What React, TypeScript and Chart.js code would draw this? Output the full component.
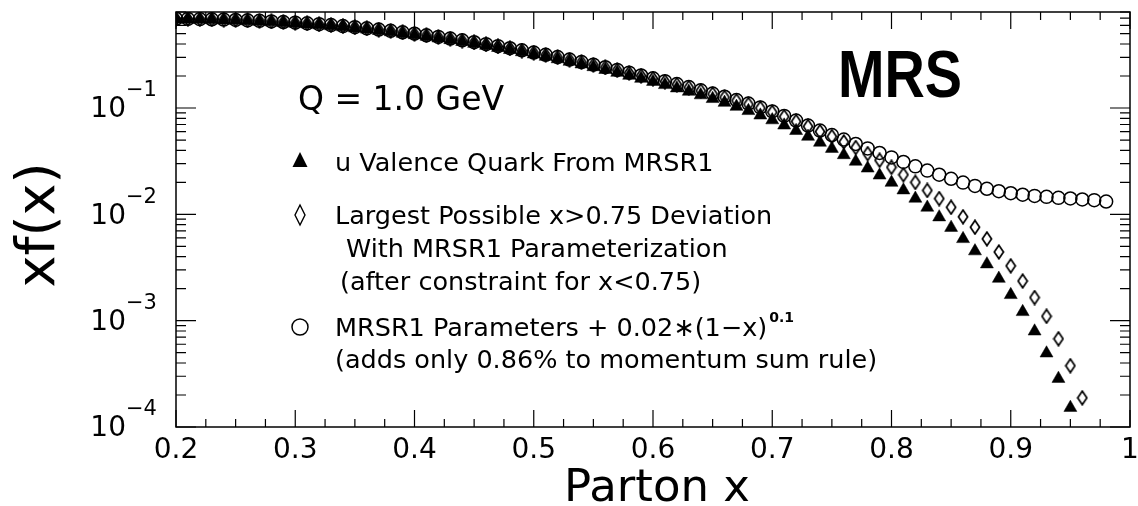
import React, { useEffect, useRef } from 'react';
import { Chart, registerables } from 'chart.js';

Chart.register(...registerables);

// ---------------- data ----------------
const xValues = [
  0.20, 0.21, 0.22, 0.23, 0.24, 0.25, 0.26, 0.27, 0.28, 0.29,
  0.30, 0.31, 0.32, 0.33, 0.34, 0.35, 0.36, 0.37, 0.38, 0.39,
  0.40, 0.41, 0.42, 0.43, 0.44, 0.45, 0.46, 0.47, 0.48, 0.49,
  0.50, 0.51, 0.52, 0.53, 0.54, 0.55, 0.56, 0.57, 0.58, 0.59,
  0.60, 0.61, 0.62, 0.63, 0.64, 0.65, 0.66, 0.67, 0.68, 0.69,
  0.70, 0.71, 0.72, 0.73, 0.74, 0.75, 0.76, 0.77, 0.78, 0.79,
  0.80, 0.81, 0.82, 0.83, 0.84, 0.85, 0.86, 0.87, 0.88, 0.89,
  0.90, 0.91, 0.92, 0.93, 0.94, 0.95, 0.96, 0.97, 0.98,
];

// u valence quark from MRSR1 (filled triangles)
const uValence = [
  0.6837, 0.6813, 0.6784, 0.6747, 0.6704, 0.6649, 0.6584, 0.6511, 0.6427, 0.6337,
  0.6242, 0.6142, 0.6030, 0.5907, 0.5775, 0.5637, 0.5493, 0.5343, 0.5189, 0.5031,
  0.4869, 0.4706, 0.4540, 0.4372, 0.4203, 0.4034, 0.3865, 0.3696, 0.3529, 0.3365,
  0.3207, 0.3048, 0.2890, 0.2735, 0.2584, 0.2435, 0.2292, 0.2154, 0.2020, 0.1892,
  0.1770, 0.1651, 0.1537, 0.1429, 0.1323, 0.1221, 0.1124, 0.1031, 0.0941, 0.0854,
  0.0770, 0.0688, 0.0611, 0.0539, 0.0474, 0.0415, 0.0362, 0.0314, 0.0271, 0.0233,
  0.0199, 0.01688, 0.01410, 0.01161, 0.00941, 0.00750, 0.00588, 0.00451, 0.00340, 0.00249,
  0.00175, 0.00121, 0.000795, 0.000494, 0.000285, 0.000152,
];

// largest possible x>0.75 deviation (open diamonds)
const largestDeviation = [
  0.690, 0.688, 0.685, 0.682, 0.678, 0.673, 0.667, 0.660, 0.652, 0.643,
  0.634, 0.624, 0.613, 0.601, 0.588, 0.575, 0.560, 0.545, 0.530, 0.514,
  0.498, 0.482, 0.465, 0.448, 0.431, 0.414, 0.397, 0.380, 0.364, 0.347,
  0.3313, 0.3155, 0.2998, 0.2844, 0.2695, 0.2548, 0.2406, 0.2269, 0.2137, 0.2010,
  0.1891, 0.1775, 0.1663, 0.1558, 0.1453, 0.1354, 0.1260, 0.1171, 0.1083, 0.0998,
  0.0913, 0.0829, 0.0747, 0.0671, 0.0600, 0.0539, 0.0480, 0.0425, 0.0372, 0.0323,
  0.0277, 0.0236, 0.0200, 0.0168, 0.01407, 0.01166, 0.00949, 0.00757, 0.00588, 0.00443,
  0.00328, 0.00236, 0.00165, 0.00110, 0.000676, 0.000377, 0.000188,
];

// MRSR1 parameters + 0.02*(1-x)^0.1 (open circles)
const plusTerm = [
  0.6912, 0.6890, 0.6863, 0.6829, 0.6788, 0.6736, 0.6676, 0.6607, 0.6528, 0.6442,
  0.6351, 0.6254, 0.6146, 0.6026, 0.5896, 0.5760, 0.5618, 0.5469, 0.5316, 0.5159,
  0.4997, 0.4834, 0.4668, 0.4499, 0.4328, 0.4158, 0.3989, 0.3819, 0.3651, 0.3486,
  0.3327, 0.3169, 0.3011, 0.2856, 0.2707, 0.2559, 0.2419, 0.2283, 0.2151, 0.2023,
  0.1903, 0.1789, 0.1678, 0.1573, 0.1469, 0.1369, 0.1277, 0.1187, 0.1100, 0.1013,
  0.0929, 0.0843, 0.0762, 0.0684, 0.0613, 0.0557, 0.0505, 0.0459, 0.0417, 0.0378,
  0.0343, 0.0311, 0.0283, 0.0258, 0.0236, 0.0216, 0.0199, 0.0185, 0.0174, 0.0165,
  0.0158, 0.0153, 0.0149, 0.0146, 0.0143, 0.0141, 0.0138, 0.0136, 0.0132,
];

const xMajorTicks = [0.2, 0.3, 0.4, 0.5, 0.6, 0.7, 0.8, 0.9, 1.0];
const xTickLabels = ['0.2', '0.3', '0.4', '0.5', '0.6', '0.7', '0.8', '0.9', '1'];
const xMinorOffsets = [0.025, 0.05, 0.075];
const yDecades = [1e-4, 1e-3, 1e-2, 1e-1];
const yExponents = ['\u22124', '\u22123', '\u22122', '\u22121'];
const yMinorMultipliers = [2, 3, 4, 5, 6, 7, 8, 9];

const X_MIN = 0.2;
const X_MAX = 1.0;
const Y_MIN = 1e-4;
const Y_MAX = 0.8;

const FONT = '"DejaVu Sans", "Liberation Sans", sans-serif';

function makeDiamond(): HTMLCanvasElement {
  const c = document.createElement('canvas');
  c.width = 12;
  c.height = 16;
  const g = c.getContext('2d')!;
  g.strokeStyle = '#000';
  g.lineWidth = 1.7;
  g.beginPath();
  g.moveTo(6, 1.2);
  g.lineTo(10.6, 8);
  g.lineTo(6, 14.8);
  g.lineTo(1.4, 8);
  g.closePath();
  g.stroke();
  return c;
}

function pts(vals: number[]) {
  return vals.map((v, i) => ({ x: xValues[i], y: v }));
}

const decorPlugin = {
  id: 'decor',
  afterDraw(chart: any) {
    const { ctx, chartArea: a, scales } = chart;
    const xs = scales.x;
    const ys = scales.y;
    ctx.save();
    ctx.strokeStyle = '#000';
    ctx.fillStyle = '#000';

    // frame
    ctx.lineWidth = 1.5;
    ctx.strokeRect(a.left, a.top, a.right - a.left, a.bottom - a.top);

    // x ticks (bottom and top, inward)
    ctx.lineWidth = 1.2;
    ctx.beginPath();
    xMajorTicks.forEach((t, i) => {
      const px = xs.getPixelForValue(t);
      ctx.moveTo(px, a.bottom);
      ctx.lineTo(px, a.bottom - 17);
      ctx.moveTo(px, a.top);
      ctx.lineTo(px, a.top + 17);
      if (i < xMajorTicks.length - 1) {
        xMinorOffsets.forEach((o) => {
          const mx = xs.getPixelForValue(t + o);
          ctx.moveTo(mx, a.bottom);
          ctx.lineTo(mx, a.bottom - 8);
          ctx.moveTo(mx, a.top);
          ctx.lineTo(mx, a.top + 8);
        });
      }
    });
    // y ticks (left and right, inward)
    yDecades.forEach((d) => {
      const py = ys.getPixelForValue(d);
      ctx.moveTo(a.left, py);
      ctx.lineTo(a.left + 20, py);
      ctx.moveTo(a.right, py);
      ctx.lineTo(a.right - 20, py);
      yMinorMultipliers.forEach((m) => {
        const v = d * m;
        if (v > Y_MAX) return;
        const my = ys.getPixelForValue(v);
        ctx.moveTo(a.left, my);
        ctx.lineTo(a.left + 10, my);
        ctx.moveTo(a.right, my);
        ctx.lineTo(a.right - 10, my);
      });
    });
    ctx.stroke();

    // x tick labels
    ctx.font = `28px ${FONT}`;
    ctx.textAlign = 'center';
    ctx.textBaseline = 'middle';
    xMajorTicks.forEach((t, i) => {
      ctx.fillText(xTickLabels[i], xs.getPixelForValue(t), a.bottom + 24);
    });

    // y tick labels 10^n
    yDecades.forEach((d, i) => {
      const py = ys.getPixelForValue(d);
      ctx.font = `28px ${FONT}`;
      ctx.textAlign = 'right';
      ctx.textBaseline = 'middle';
      ctx.fillText('10', 126, py + 2);
      ctx.font = `21px ${FONT}`;
      ctx.textAlign = 'left';
      ctx.fillText(yExponents[i], 126, py - 17);
    });

    // axis titles
    ctx.font = `45px ${FONT}`;
    ctx.textAlign = 'center';
    ctx.textBaseline = 'alphabetic';
    ctx.fillText('Parton x', (a.left + a.right) / 2 + 4, 501);

    ctx.save();
    ctx.translate(40, 225);
    ctx.rotate(-Math.PI / 2);
    ctx.font = `54px ${FONT}`;
    ctx.textAlign = 'center';
    ctx.textBaseline = 'middle';
    ctx.fillText('xf(x)', 0, 0);
    ctx.restore();

    // MRS label
    ctx.save();
    ctx.font = `bold 66px "Liberation Sans", Arial, sans-serif`;
    ctx.textAlign = 'left';
    ctx.textBaseline = 'alphabetic';
    const w = ctx.measureText('MRS').width;
    ctx.translate(838, 97);
    ctx.scale(124 / w, 1);
    ctx.fillText('MRS', 0, 0);
    ctx.restore();

    // Q label
    ctx.font = `33px ${FONT}`;
    ctx.textAlign = 'left';
    ctx.textBaseline = 'alphabetic';
    ctx.fillText('Q = 1.0 GeV', 298, 110);

    // legend
    ctx.font = `25.5px ${FONT}`;
    ctx.fillText('u Valence Quark From MRSR1', 335, 171);
    ctx.fillText('Largest Possible x>0.75 Deviation', 335, 224);
    ctx.fillText('With MRSR1 Parameterization', 346, 257);
    ctx.fillText('(after constraint for x<0.75)', 340, 290);
    const l5 = 'MRSR1 Parameters + 0.02\u2217(1\u2212x)';
    ctx.fillText(l5, 335, 336);
    const l5w = ctx.measureText(l5).width;
    ctx.font = `bold 14px ${FONT}`;
    ctx.fillText('0.1', 335 + l5w + 2, 322);
    ctx.font = `25.5px ${FONT}`;
    ctx.fillText('(adds only 0.86% to momentum sum rule)', 335, 368);

    // legend markers
    ctx.beginPath();
    ctx.moveTo(300, 152);
    ctx.lineTo(307.5, 167);
    ctx.lineTo(292.5, 167);
    ctx.closePath();
    ctx.fill();
    ctx.lineWidth = 1.4;
    ctx.beginPath();
    ctx.moveTo(300, 205);
    ctx.lineTo(305, 215);
    ctx.lineTo(300, 225);
    ctx.lineTo(295, 215);
    ctx.closePath();
    ctx.stroke();
    ctx.lineWidth = 1.5;
    ctx.beginPath();
    ctx.arc(300, 327, 8, 0, Math.PI * 2);
    ctx.stroke();

    ctx.restore();
  },
};

export default function App() {
  const ref = useRef<HTMLCanvasElement | null>(null);
  useEffect(() => {
    if (!ref.current) return;
    const diamond = makeDiamond();
    const chart = new Chart(ref.current, {
      type: 'scatter',
      data: {
        datasets: [
          {
            label: 'MRSR1 Parameters + 0.02*(1-x)^0.1',
            data: pts(plusTerm),
            pointStyle: 'circle',
            pointRadius: 6.5,
            borderColor: '#000',
            backgroundColor: 'rgba(0,0,0,0)',
            borderWidth: 1.5,
            showLine: false,
          },
          {
            label: 'Largest Possible x>0.75 Deviation',
            data: pts(largestDeviation),
            pointStyle: diamond,
            pointRadius: 6,
            borderColor: '#000',
            backgroundColor: 'rgba(0,0,0,0)',
            showLine: false,
          },
          {
            label: 'u Valence Quark From MRSR1',
            data: pts(uValence),
            pointStyle: 'triangle',
            pointRadius: 7.5,
            borderColor: '#000',
            backgroundColor: '#000',
            borderWidth: 0.5,
            showLine: false,
          },
        ],
      },
      options: {
        responsive: false,
        animation: false,
        devicePixelRatio: 1,
        layout: { padding: { top: 12, right: 8, left: 0, bottom: 0 } },
        plugins: { legend: { display: false }, tooltip: { enabled: false } },
        scales: {
          x: {
            type: 'linear',
            min: X_MIN,
            max: X_MAX,
            grid: { display: false },
            border: { display: false },
            ticks: { display: false },
            afterFit: (s: any) => {
              s.height = 79;
            },
          },
          y: {
            type: 'logarithmic',
            min: Y_MIN,
            max: Y_MAX,
            grid: { display: false },
            border: { display: false },
            ticks: { display: false },
            afterFit: (s: any) => {
              s.width = 176;
            },
          },
        },
      },
      plugins: [decorPlugin],
    });
    return () => chart.destroy();
  }, []);

  return (
    <div style={{ position: 'absolute', left: 0, top: 0, width: 1138, height: 506, background: '#fff' }}>
      <canvas ref={ref} width={1138} height={506} style={{ width: 1138, height: 506, display: 'block' }} />
    </div>
  );
}
